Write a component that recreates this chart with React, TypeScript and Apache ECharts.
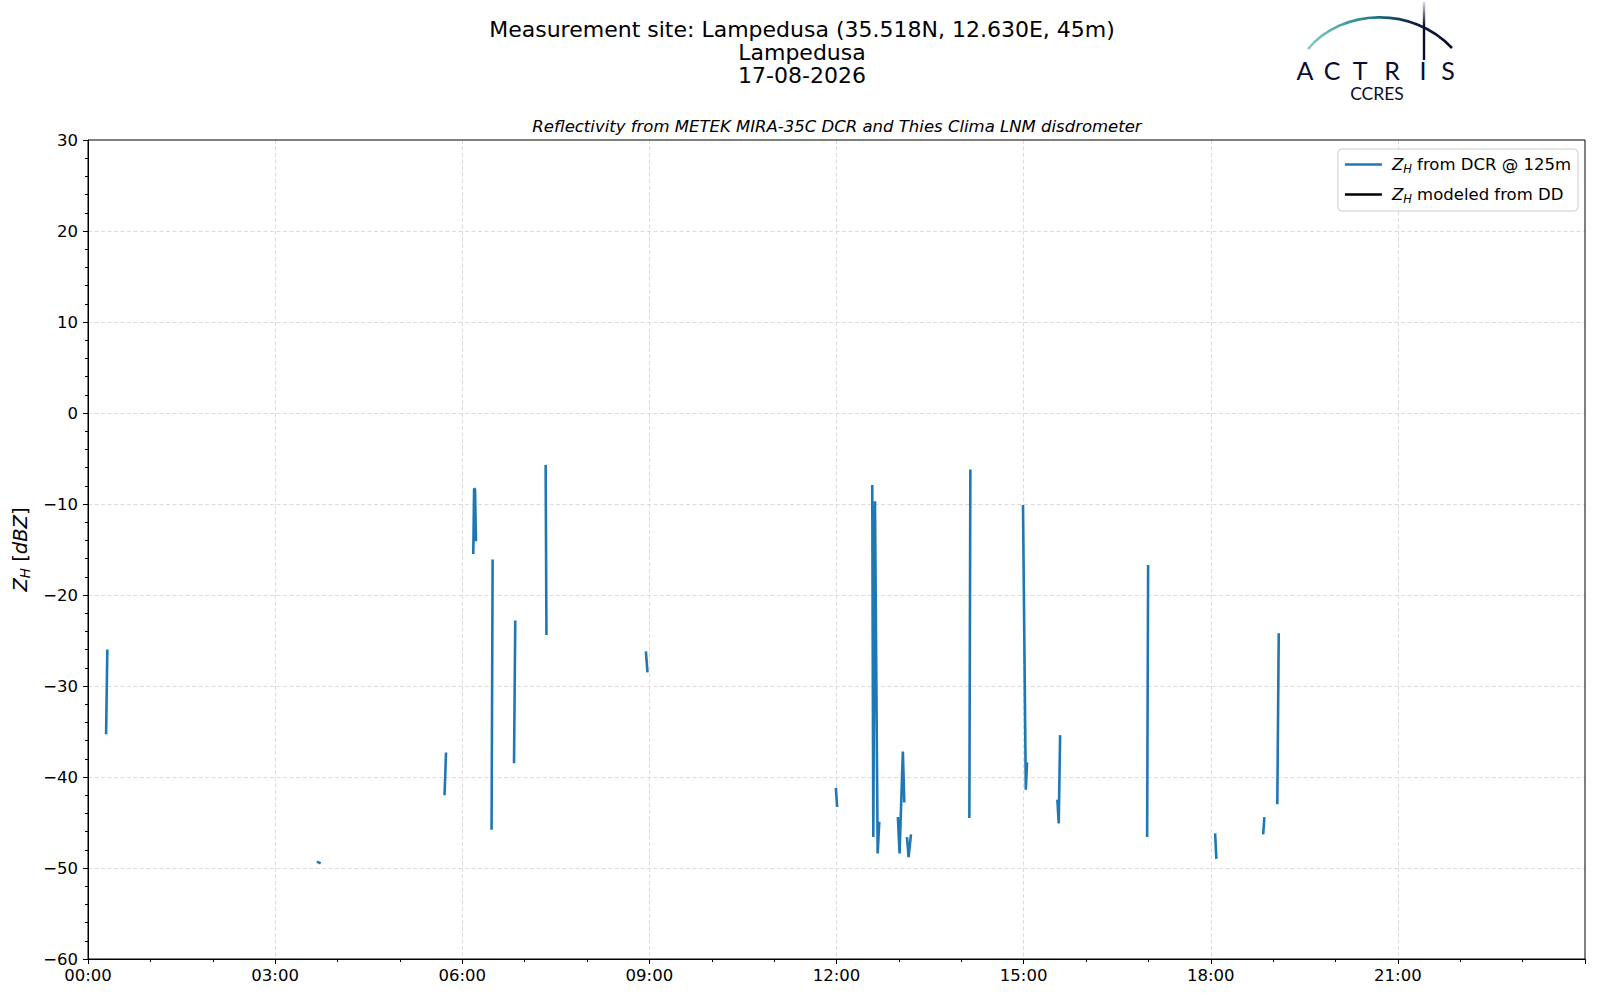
import React, { useEffect, useRef } from "react";
import * as echarts from "echarts";

// Time in decimal hours (UTC) and reflectivity in dBZ, one array per contiguous segment
const segA = [[0.29, -35.3], [0.31, -26.0]];
const segB = [[3.67, -49.3], [3.73, -49.5]];
const segC = [[5.716, -42.0], [5.74, -37.3]];
const segD = [[6.177, -15.5], [6.19, -8.3], [6.205, -8.4], [6.22, -14.1]];
const segE = [[6.47, -45.8], [6.487, -16.1]];
const segF = [[6.83, -38.5], [6.85, -22.8]];
const segG = [[7.337, -5.7], [7.35, -24.4]];
const segH = [[8.944, -26.2], [8.97, -28.5]];
const segI = [[11.99, -41.2], [12.01, -43.3]];
const segJ = [[12.573, -7.9], [12.59, -46.6], [12.617, -9.7], [12.66, -48.4], [12.686, -44.9]];
const segK = [[12.984, -44.4], [13.011, -48.4], [13.064, -37.2], [13.087, -42.8]];
const segL = [[13.13, -46.6], [13.156, -48.8], [13.194, -46.3]];
const segM = [[14.13, -44.5], [14.146, -6.2]];
const segN = [[14.99, -10.1], [15.035, -41.4], [15.055, -38.4]];
const segO = [[15.541, -42.5], [15.563, -45.1], [15.585, -35.4]];
const segP = [[16.98, -46.6], [16.996, -16.7]];
const segQ = [[18.07, -46.2], [18.09, -49.0]];
const segR = [[18.84, -46.3], [18.86, -44.4]];
const segS = [[19.067, -43.0], [19.09, -24.2]];

const dcrSegments = [segA, segB, segC, segD, segE, segF, segG, segH, segI, segJ, segK, segL, segM, segN, segO, segP, segQ, segR, segS];
const ddModeled: number[][] = [];

const titleLines = ["Measurement site: Lampedusa (35.518N, 12.630E, 45m)", "Lampedusa", "17-08-2026"];
const subtitle = "Reflectivity from METEK MIRA-35C DCR and Thies Clima LNM disdrometer";
const logoLetters = ["A", "C", "T", "R", "I", "S"];
const logoLetterX = [1305, 1332, 1360, 1392, 1423, 1448];

const FONT = "DejaVu Sans";

function buildLine(): any[] {
  const out: any[] = [];
  dcrSegments.forEach((seg, i) => {
    if (i > 0) out.push([seg[0][0] - 0.001, "-"]);
    seg.forEach((p) => out.push(p));
  });
  return out;
}

const fmtY = (v: number) => (v < 0 ? "\u2212" + Math.abs(v) : String(v));
const fmtX = (v: number) => String(v).padStart(2, "0") + ":00";

export default function App() {
  const ref = useRef<HTMLDivElement>(null);
  useEffect(() => {
    document.body.style.margin = "0";
    const chart = echarts.init(ref.current!, null, { renderer: "svg" });
    const legendRich = {
      i: { fontStyle: "italic", fontSize: 16.5, fontFamily: FONT, color: "#000" },
      s: { fontStyle: "italic", fontSize: 11.5, fontFamily: FONT, color: "#000", padding: [9, 0, 0, 0] },
      n: { fontSize: 16.5, fontFamily: FONT, color: "#000" },
    };
    const nameRich = {
      i: { fontStyle: "italic", fontSize: 19.5, fontFamily: FONT, color: "#000" },
      s: { fontStyle: "italic", fontSize: 13.5, fontFamily: FONT, color: "#000", padding: [10, 0, 0, 0] },
      n: { fontSize: 19.5, fontFamily: FONT, color: "#000" },
    };
    const option: any = {
      animation: false,
      textStyle: { fontFamily: FONT },
      grid: {
        left: 88, right: 15, top: 140, bottom: 41,
        containLabel: false, outerBoundsMode: "none",
        show: true, borderColor: "#000", borderWidth: 1, z: 3,
      },
      xAxis: {
        type: "value",
        min: 0,
        max: 24,
        interval: 3,
        axisLine: { show: true, onZero: false, lineStyle: { color: "#000", width: 1 } },
        axisTick: { show: true, length: 5, lineStyle: { color: "#000", width: 1 } },
        minorTick: { show: true, splitNumber: 3, length: 3, lineStyle: { color: "#000", width: 1 } },
        splitLine: { show: true, showMinLine: false, showMaxLine: false, lineStyle: { color: "#d3d3d3", width: 0.8, type: [4, 2.5] } },
        axisLabel: { formatter: fmtX, fontSize: 16.5, color: "#000", margin: 8, fontFamily: FONT, showMaxLabel: false },
      },
      yAxis: {
        type: "value",
        min: -60,
        max: 30,
        interval: 10,
        axisLine: { show: true, onZero: false, lineStyle: { color: "#000", width: 1 } },
        axisTick: { show: true, length: 5, lineStyle: { color: "#000", width: 1 } },
        minorTick: { show: true, splitNumber: 5, length: 3, lineStyle: { color: "#000", width: 1 } },
        splitLine: { show: true, showMinLine: false, showMaxLine: false, lineStyle: { color: "#d3d3d3", width: 0.8, type: [4, 2.5] } },
        axisLabel: { formatter: fmtY, fontSize: 16.5, color: "#000", margin: 10, fontFamily: FONT },
        name: "{i|Z}{s|H}{n| [}{i|dBZ}{n|]}",
        nameLocation: "middle",
        nameRotate: 90,
        nameGap: 54,
        nameTextStyle: { fontSize: 19.5, color: "#000", fontFamily: FONT, rich: nameRich },
      },
      legend: {
        orient: "vertical",
        right: 22,
        top: 149,
        padding: [7, 7, 6, 7],
        itemGap: 11,
        itemWidth: 37,
        itemHeight: 2.5,
        icon: "rect",
        borderColor: "#cccccc",
        borderWidth: 1,
        borderRadius: 4,
        backgroundColor: "rgba(255,255,255,0.8)",
        textStyle: { fontSize: 16.5, color: "#000", fontFamily: FONT, padding: [0, 0, 0, 5], rich: legendRich },
        formatter: (name: string) =>
          name === "dcr" ? "{i|Z}{s|H}{n| from DCR @ 125m}" : "{i|Z}{s|H}{n| modeled from DD}",
        data: ["dcr", "dd"],
      },
      series: [
        {
          name: "dcr",
          type: "line",
          data: buildLine(),
          showSymbol: false,
          symbol: "none",
          connectNulls: false,
          lineStyle: { color: "#1f77b4", width: 2.6 },
          itemStyle: { color: "#1f77b4" },
        },
        {
          name: "dd",
          type: "line",
          data: ddModeled,
          symbol: "none",
          lineStyle: { color: "#000", width: 2.6 },
          itemStyle: { color: "#000" },
        },
      ],
      graphic: [
        ...titleLines.map((t, i) => ({
          type: "text",
          x: 802,
          y: 29 + i * 23,
          style: { text: t, fontSize: 22, fontFamily: FONT, fill: "#000", align: "center", verticalAlign: "middle" },
        })),
        {
          type: "text",
          x: 837,
          y: 126,
          style: { text: subtitle, fontSize: 16.5, fontStyle: "italic", fontFamily: FONT, fill: "#000", align: "center", verticalAlign: "middle" },
        },
        {
          type: "bezierCurve",
          shape: { x1: 1308, y1: 49, cpx1: 1342, cpy1: 8, cpx2: 1413, cpy2: 6, x2: 1452, y2: 48 },
          style: {
            fill: "none",
            lineWidth: 2.6,
            stroke: new echarts.graphic.LinearGradient(0, 0, 1, 0, [
              { offset: 0, color: "#7ccfc8" },
              { offset: 0.45, color: "#1f7a87" },
              { offset: 0.75, color: "#0d1a40" },
              { offset: 1, color: "#0b0d2e" },
            ]),
          },
        },
        {
          type: "rect",
          shape: { x: 1422.8, y: 2, width: 2.4, height: 58 },
          style: {
            fill: new echarts.graphic.LinearGradient(0, 0, 0, 1, [
              { offset: 0, color: "rgba(11,13,46,0.15)" },
              { offset: 0.4, color: "#0b0d2e" },
              { offset: 1, color: "#0b0d2e" },
            ]),
          },
        },
        ...logoLetters.map((l, i) => ({
          type: "text",
          x: logoLetterX[i],
          y: 70,
          style: { text: l, fontSize: 25, fontFamily: "Lato", fill: "#0b0d2e", align: "center", verticalAlign: "middle" },
        })),
        {
          type: "text",
          x: 1377,
          y: 93,
          style: { text: "CCRES", fontSize: 17.5, fontFamily: "Lato", fill: "#0b0d2e", align: "center", verticalAlign: "middle" },
        },
      ],
    };
    chart.setOption(option);
    return () => chart.dispose();
  }, []);
  return <div ref={ref} style={{ width: 1600, height: 1000 }} />;
}
